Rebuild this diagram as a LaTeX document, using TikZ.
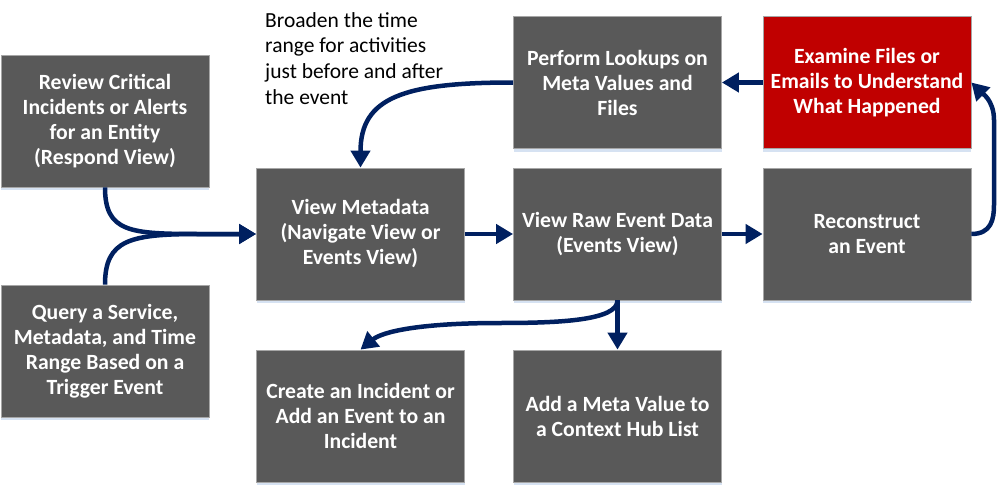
\documentclass[tikz,border=0pt]{standalone}
\usepackage{fontspec}
\setmainfont{Carlito}
\usetikzlibrary{arrows.meta}
\definecolor{boxgray}{HTML}{595959}
\definecolor{boxred}{HTML}{C00000}
\definecolor{navy}{HTML}{002060}
\definecolor{shadowblue}{HTML}{D6E2F2}
\definecolor{edgegray}{HTML}{A6A6A6}
\tikzset{
  stepbox/.style={rectangle, fill=boxgray, draw=edgegray, line width=0.8pt,
    minimum width=208pt, minimum height=132pt, inner sep=0pt,
    text=white, align=center, font=\bfseries\fontsize{21.7}{25}\selectfont,
    preaction={fill=shadowblue, transform canvas={yshift=-3pt}}},
  redbox/.style={stepbox, fill=boxred},
  flow/.style={draw=navy, line width=4.5pt, -{Triangle[length=17pt,width=19pt]}},
  note/.style={inner sep=0pt, align=left, font=\fontsize{21.5}{25.7}\selectfont, text=black}
}
\begin{document}
\begin{tikzpicture}[x=1pt,y=-1pt]
\useasboundingbox (0,0) rectangle (999,487);
\node[stepbox] (b1) at (105,121) {Review Critical\\Incidents or Alerts\\for an Entity\\(Respond View)};
\node[stepbox] (b2) at (105,351) {Query a Service,\\Metadata, and Time\\Range Based on a\\Trigger Event};
\node[stepbox] (b3) at (360.5,234) {View Metadata\\(Navigate View or\\Events View)};
\node[stepbox] (b4) at (617.5,234) {View Raw Event Data\\(Events View)};
\node[stepbox] (b5) at (867,234) {Reconstruct\\an Event};
\node[stepbox] (b6) at (617.5,82.5) {Perform Lookups on\\Meta Values and\\Files};
\node[redbox] (b7) at (867,82.5) {Examine Files or\\Emails to Understand\\What Happened};
\node[stepbox] (b8) at (360.5,416) {Create an Incident or\\Add an Event to an\\Incident};
\node[stepbox] (b9) at (617.5,416) {Add a Meta Value to\\a Context Hub List};
\node[note, anchor=north west] (n1) at (265,12) {Broaden the time\\range for activities\\just before and after\\the event};
\coordinate (m) at (200,234);
\coordinate (r1) at (994,205);
\coordinate (r2) at (994,120);
\coordinate (d1) at (500,323);
\draw[flow] (b1.south) .. controls +(0,45) and +(-70,0) .. (m) -- (b3.west);
\draw[flow] (b2.north) .. controls +(0,-45) and +(-70,0) .. (m) -- (b3.west);
\draw[flow] (b3.east) -- (b4.west);
\draw[flow] (b4.east) -- (b5.west);
\draw[flow] (b5.east) .. controls +(20,0) and +(0,14) .. (r1) -- (r2) .. controls +(0,-20) and +(10,10) .. (b7.east);
\draw[flow] (b7.west) -- (b6.west -| b6.east);
\draw[flow] (b6.west) .. controls +(-110,0) and +(0,-70) .. (b3.north);
\draw[flow] (b4.south) -- (b9.north);
\draw[flow] (b4.south) .. controls +(0,20) and +(60,0) .. (d1) .. controls +(-80,0) and +(22,-18) .. (b8.north);
\end{tikzpicture}
\end{document}
